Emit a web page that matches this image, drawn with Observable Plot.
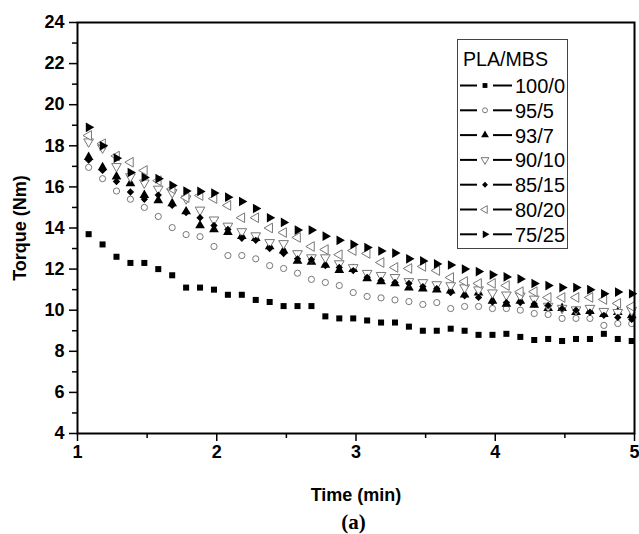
<!DOCTYPE html>
<html>
<head>
<meta charset="utf-8">
<script src="https://cdn.jsdelivr.net/npm/d3@7"></script>
<script src="https://cdn.jsdelivr.net/npm/@observablehq/plot@0.6"></script>
<style>
  body { margin: 0; background: #fff; }
  #wrap { position: relative; width: 639px; height: 534px; font-family: "Liberation Sans", Arial, sans-serif; }
  #cap { position: absolute; left: 77px; width: 553px; top: 509px; text-align: center;
         font: bold 21px "Liberation Serif", "Times New Roman", serif; line-height: 26px; color: #000; }
  #legend { position: absolute; left: 457px; top: 39px; }
</style>
</head>
<body>
<div id="wrap"></div>
<script>
// ---- data ----
const time = [1.08,1.18,1.28,1.38,1.48,1.58,1.68,1.78,1.88,1.98,2.08,2.18,2.28,2.38,2.48,2.58,2.68,2.78,2.88,2.98,
              3.08,3.18,3.28,3.38,3.48,3.58,3.68,3.78,3.88,3.98,4.08,4.18,4.28,4.38,4.48,4.58,4.68,4.78,4.88,4.98];
const s100_0 = [13.7,13.2,12.6,12.3,12.3,12.0,11.7,11.1,11.1,11.0,10.75,10.75,10.5,10.4,10.2,10.2,10.2,9.7,9.6,9.6,
                9.5,9.4,9.4,9.2,9.0,9.0,9.1,9.0,8.8,8.8,8.85,8.7,8.55,8.6,8.5,8.6,8.6,8.85,8.6,8.5];
const s95_5 = [16.95,16.4,15.8,15.4,15.0,14.56,14.02,13.68,13.58,13.1,12.66,12.66,12.5,12.17,12.03,11.8,11.5,11.35,11.2,10.86,
               10.67,10.6,10.5,10.42,10.28,10.37,10.08,10.18,10.18,10.08,10.08,10.0,9.84,9.79,9.6,9.6,9.6,9.26,9.35,9.35];
const s93_7 = [17.45,16.95,16.5,16.17,15.6,15.34,15.2,14.8,14.12,13.93,13.8,13.6,13.5,13.1,12.9,12.4,12.35,12.2,11.95,12.0,
               11.55,11.4,11.3,11.1,11.05,11.0,10.95,10.75,10.85,10.45,10.3,10.45,10.25,10.1,10.1,9.9,9.95,9.8,9.9,9.75];
const s90_10 = [18.2,17.9,17.0,16.5,16.2,15.9,15.73,15.43,14.88,14.4,14.1,13.83,13.63,13.3,13.25,12.76,12.56,12.56,12.27,12.08,
                11.8,11.7,11.6,11.4,11.35,11.25,11.2,11.1,11.0,10.85,10.75,10.7,10.55,10.2,10.1,10.03,10.1,9.95,9.9,10.0];
const s85_15 = [17.3,16.8,16.26,15.75,15.4,15.6,15.1,14.75,14.5,14.12,13.93,13.5,13.4,13.0,12.76,12.5,12.46,12.17,12.08,11.93,
                11.6,11.45,11.35,11.3,11.15,11.05,10.86,10.7,10.62,10.4,10.37,10.37,10.3,10.23,10.08,10.0,9.9,9.75,9.65,9.55];
const s80_20 = [18.5,18.1,17.5,17.2,16.8,16.3,15.9,15.48,15.58,15.43,15.1,14.5,14.5,14.0,13.78,13.54,13.1,12.95,12.7,12.9,
                12.76,12.32,12.08,12.03,12.13,11.93,11.59,11.4,11.3,11.3,11.2,10.9,10.9,10.62,10.62,10.62,10.62,10.52,10.33,10.18];
const s75_25 = [18.9,18.0,17.4,16.7,16.46,16.4,16.07,15.8,15.78,15.7,15.5,15.29,14.95,14.5,14.27,13.9,13.9,13.6,13.4,13.2,
                13.05,12.88,12.78,12.5,12.4,12.25,12.2,12.0,11.88,11.72,11.62,11.52,11.3,11.2,11.1,11.1,11.0,10.8,10.88,10.8];

const seriesNames = ["100/0","95/5","93/7","90/10","85/15","80/20","75/25"];
const seriesValues = [s100_0, s95_5, s93_7, s90_10, s85_15, s80_20, s75_25];
const symbolNames = ["square","circle","triangle","triangle","diamond2","triangle","triangle"];
const symbolRotate = [0, 0, 0, 180, 0, -90, 90];
const symbolFilled = [true, false, true, false, true, false, true];
const symbolR = [3.4, 3.1, 3.6, 3.6, 3.3, 3.6, 3.6];

const xMajor = [1,2,3,4,5];
const xMinor = [1.5,2.5,3.5,4.5];
const yMajor = [4,6,8,10,12,14,16,18,20,22,24];
const yMinor = [5,7,9,11,13,15,17,19,21,23];

const legendTitle = "PLA/MBS";
const xLabel = "Time (min)";
const yLabel = "Torque (Nm)";
const caption = "(a)";

// ---- chart ----
const openStroke = "#777";
const dotMarks = seriesValues.map((vals, i) => {
  const data = time.map((t, j) => ({t, v: vals[j]}));
  return Plot.dot(data, {
    x: "t", y: "v",
    symbol: symbolNames[i],
    rotate: symbolRotate[i],
    r: symbolR[i],
    fill: symbolFilled[i] ? "#000" : "#fff",
    stroke: symbolFilled[i] ? "none" : openStroke,
    strokeWidth: 1
  });
});

const chart = Plot.plot({
  width: 639,
  height: 509,
  marginTop: 22,
  marginBottom: 76,
  marginLeft: 77,
  marginRight: 5,
  style: {fontFamily: '"Liberation Sans", Arial, sans-serif', fontSize: "18px", fontWeight: "bold", color: "#000", background: "#fff"},
  x: {domain: [1, 5]},
  y: {domain: [4, 24]},
  marks: [
    ...dotMarks,
    Plot.axisX({ticks: xMinor, tickSize: 5, text: null, label: null, strokeWidth: 1.5}),
    Plot.axisY({ticks: yMinor, tickSize: 5, text: null, label: null, strokeWidth: 1.5}),
    Plot.axisX({ticks: xMajor, tickSize: 8, tickPadding: 4, tickFormat: d3.format("d"), strokeWidth: 1.5,
                label: xLabel, labelAnchor: "center", labelArrow: "none", labelOffset: 67}),
    Plot.axisY({ticks: yMajor, tickSize: 8, tickPadding: 5, tickFormat: d3.format("d"), strokeWidth: 1.5,
                label: yLabel, labelAnchor: "center", labelArrow: "none", labelOffset: 64}),
    Plot.frame({stroke: "#000", strokeWidth: 2})
  ]
});

const wrap = document.getElementById("wrap");
wrap.appendChild(chart);

// ---- legend (overlay inside plot area) ----
const lw = 111, lh = 210;
const lg = d3.select(wrap).append("svg").attr("id", "legend").attr("width", lw).attr("height", lh);
lg.append("rect").attr("x", 0.5).attr("y", 0.5).attr("width", lw - 1).attr("height", lh - 1)
  .attr("fill", "#fff").attr("stroke", "#444").attr("stroke-width", 1);
lg.append("text").attr("x", 6).attr("y", 27).attr("font-family", '"Liberation Sans", Arial, sans-serif')
  .attr("font-size", 20).attr("textLength", 85).attr("lengthAdjust", "spacingAndGlyphs").text(legendTitle);
const symMap = {square: d3.symbolSquare, circle: d3.symbolCircle, triangle: d3.symbolTriangle, diamond2: d3.symbolDiamond2};
seriesNames.forEach((name, i) => {
  const cy = 46.5 + i * 24.8;
  const g = lg.append("g");
  g.append("line").attr("x1", 3).attr("x2", 20).attr("y1", cy).attr("y2", cy).attr("stroke", "#000").attr("stroke-width", 2);
  g.append("line").attr("x1", 36).attr("x2", 55).attr("y1", cy).attr("y2", cy).attr("stroke", "#000").attr("stroke-width", 2);
  const rr = symbolR[i] * 0.8;
  g.append("path")
    .attr("d", d3.symbol(symMap[symbolNames[i]], Math.PI * rr * rr)())
    .attr("transform", `translate(28,${cy}) rotate(${symbolRotate[i]})`)
    .attr("fill", symbolFilled[i] ? "#000" : "#fff")
    .attr("stroke", symbolFilled[i] ? "none" : openStroke);
  g.append("text").attr("x", 58).attr("y", cy + 7.5)
    .attr("font-family", '"Liberation Sans", Arial, sans-serif').attr("font-size", 20).text(name);
});

// ---- caption ----
const cap = document.createElement("div");
cap.id = "cap";
cap.textContent = caption;
wrap.appendChild(cap);
</script>
</body>
</html>
